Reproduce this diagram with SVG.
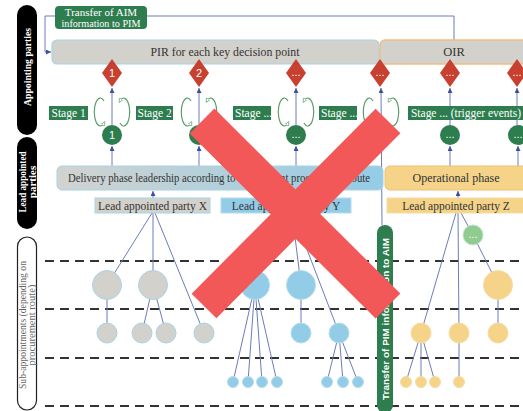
<svg xmlns="http://www.w3.org/2000/svg" width="523" height="411" viewBox="0 0 523 411">
<defs>
<style>
.serif{font-family:"Liberation Serif","DejaVu Serif",serif}
.sans{font-family:"Liberation Sans","DejaVu Sans",sans-serif}
.pill{fill:#000}
.pilltxt{fill:#fff;font-weight:bold;font-size:11px;text-anchor:middle}
.green{fill:#2e7d4f}
.wt{fill:#fff}
.conn{stroke:#6b7cb8;stroke-width:1;fill:none}
.dash{stroke:#333;stroke-width:2;stroke-dasharray:9 6;fill:none}
.loop{stroke:#5e9e6e;stroke-width:1.2;fill:none}
.dia{fill:#c8402f}
.gray{fill:#d3d1cc;stroke:#a8d3e6;stroke-width:1}
.blue{fill:#93cce6;stroke:#b5dcee;stroke-width:1}
.yel{fill:#f5d48a;stroke:#f6dca2;stroke-width:1}
.lbl{font-size:11.5px;fill:#333;text-anchor:middle}
.st{font-size:11.5px;fill:#fff}
.num{font-size:11px;fill:#fff;text-anchor:middle}
</style>
<marker id="arr" viewBox="0 0 6 6" refX="6" refY="3" markerWidth="5" markerHeight="5" orient="auto" markerUnits="userSpaceOnUse">
<path d="M0,0 L6,3 L0,6 z" fill="#3f4fa0"/>
</marker>
<marker id="larr" viewBox="0 0 6 6" refX="3" refY="3" markerWidth="5" markerHeight="5" orient="auto" markerUnits="userSpaceOnUse">
<path d="M0,0.5 L5,3 L0,5.5 z" fill="#fff" stroke="#5e9e6e" stroke-width="0.8"/>
</marker>
<linearGradient id="dg" x1="0" y1="0" x2="1" y2="0">
<stop offset="0" stop-color="#d2d3d0"/>
<stop offset="1" stop-color="#94cce6"/>
</linearGradient>
</defs>

<!-- side pills -->
<g id="lane-appointing">
<rect class="pill" x="17" y="5" width="20" height="130" rx="10"/>
<text class="serif pilltxt" textLength="78" lengthAdjust="spacingAndGlyphs" transform="translate(31,67) rotate(-90)">Appointing parties</text>
</g>
<g id="lane-lead">
<rect class="pill" x="17" y="137" width="20" height="92" rx="10"/>
<text class="serif pilltxt" textLength="61" lengthAdjust="spacingAndGlyphs" transform="translate(26,182) rotate(-90)">Lead appointed</text>
<text class="serif pilltxt" transform="translate(35.5,182) rotate(-90)">parties</text>
</g>
<g id="lane-sub">
<rect x="17.5" y="237" width="19" height="173" rx="9.5" fill="#fff" stroke="#222" stroke-width="1.2"/>
<text class="serif" font-size="10.5" fill="#666" text-anchor="middle" textLength="128" lengthAdjust="spacingAndGlyphs" transform="translate(26,325) rotate(-90)">Sub-appointments (depending on</text>
<text class="serif" font-size="10.5" fill="#666" text-anchor="middle" transform="translate(35,325) rotate(-90)">procurement route)</text>
</g>

<!-- dashed level lines -->
<g id="levels">
<line class="dash" x1="45" y1="261" x2="523" y2="261"/>
<line class="dash" x1="45" y1="309" x2="523" y2="309"/>
<line class="dash" x1="45" y1="358" x2="523" y2="358"/>
<line class="dash" x1="45" y1="406" x2="523" y2="406"/>
</g>

<!-- connectors -->
<g id="connectors">
<polyline class="conn" points="55,16 45,16 45,52 51,52" marker-end="url(#arr)"/>
<polyline class="conn" points="147,16 454,16 454,40"/>
<line class="conn" x1="112" y1="125" x2="112" y2="88" marker-end="url(#arr)"/>
<line class="conn" x1="199" y1="125" x2="199" y2="88" marker-end="url(#arr)"/>
<line class="conn" x1="296" y1="125" x2="296" y2="88" marker-end="url(#arr)"/>
<line class="conn" x1="382" y1="225" x2="381" y2="88" marker-end="url(#arr)"/>
<line class="conn" x1="450" y1="125" x2="450" y2="88" marker-end="url(#arr)"/>
<line class="conn" x1="517" y1="125" x2="517" y2="88" marker-end="url(#arr)"/>
<line class="conn" x1="112" y1="166" x2="112" y2="146" marker-end="url(#arr)"/>
<line class="conn" x1="199" y1="166" x2="199" y2="146" marker-end="url(#arr)"/>
<line class="conn" x1="296" y1="166" x2="296" y2="146" marker-end="url(#arr)"/>
<line class="conn" x1="450" y1="166" x2="450" y2="146" marker-end="url(#arr)"/>
<line class="conn" x1="518" y1="166" x2="518" y2="146" marker-end="url(#arr)"/>
<line class="conn" x1="153" y1="198" x2="153" y2="191" marker-end="url(#arr)"/>
<line class="conn" x1="458" y1="198" x2="458" y2="191" marker-end="url(#arr)"/>
<!-- tree X -->
<line class="conn" x1="152" y1="213" x2="107" y2="285"/>
<line class="conn" x1="153" y1="213" x2="153" y2="285"/>
<line class="conn" x1="155" y1="213" x2="204" y2="333"/>
<line class="conn" x1="107" y1="285" x2="107" y2="333"/>
<line class="conn" x1="153" y1="285" x2="142" y2="333"/>
<line class="conn" x1="153" y1="285" x2="166" y2="333"/>
<!-- tree Y -->
<line class="conn" x1="291" y1="213" x2="255" y2="285"/>
<line class="conn" x1="292" y1="213" x2="301" y2="285"/>
<line class="conn" x1="293" y1="213" x2="339" y2="333"/>
<line class="conn" x1="255" y1="285" x2="233" y2="382"/>
<line class="conn" x1="255" y1="285" x2="248" y2="382"/>
<line class="conn" x1="255" y1="285" x2="262" y2="382"/>
<line class="conn" x1="255" y1="285" x2="277" y2="382"/>
<line class="conn" x1="301" y1="285" x2="301" y2="333"/>
<line class="conn" x1="339" y1="333" x2="327" y2="382"/>
<line class="conn" x1="339" y1="333" x2="343" y2="382"/>
<line class="conn" x1="339" y1="333" x2="358" y2="382"/>
<!-- tree Z -->
<line class="conn" x1="461" y1="213" x2="473" y2="235"/>
<line class="conn" x1="473" y1="235" x2="498" y2="285"/>
<line class="conn" x1="456" y1="213" x2="421" y2="333"/>
<line class="conn" x1="458" y1="213" x2="459" y2="333"/>
<line class="conn" x1="498" y1="285" x2="498" y2="333"/>
<line class="conn" x1="421" y1="333" x2="406" y2="382"/>
<line class="conn" x1="421" y1="333" x2="421" y2="382"/>
<line class="conn" x1="421" y1="333" x2="435" y2="382"/>
<line class="conn" x1="459" y1="333" x2="459" y2="382"/>
</g>

<!-- cycle icons -->
<g id="cycles">
<path class="loop" d="M104,101 A6,14 0 1 0 104,123" marker-end="url(#larr)"/>
<path class="loop" d="M120,123 A6,14 0 1 0 120,101" marker-end="url(#larr)"/>
<path class="loop" d="M191,101 A6,14 0 1 0 191,123" marker-end="url(#larr)"/>
<path class="loop" d="M207,123 A6,14 0 1 0 207,101" marker-end="url(#larr)"/>
<path class="loop" d="M288,101 A6,14 0 1 0 288,123" marker-end="url(#larr)"/>
<path class="loop" d="M304,123 A6,14 0 1 0 304,101" marker-end="url(#larr)"/>
<path class="loop" d="M373,101 A6,14 0 1 0 373,123" marker-end="url(#larr)"/>
<path class="loop" d="M389,123 A6,14 0 1 0 389,101" marker-end="url(#larr)"/>
</g>

<g id="transfer-aim">
<rect class="green" x="55" y="6" width="92" height="23" rx="4"/>
<text class="serif" font-size="11" fill="#fff" text-anchor="middle" x="101" y="16">Transfer of AIM</text>
<text class="serif" font-size="11" fill="#fff" text-anchor="middle" textLength="79" lengthAdjust="spacingAndGlyphs" x="101" y="26.5">information to PIM</text>
</g>
<g id="pir">
<rect x="52" y="40" width="327" height="24" rx="5" fill="#d3d1cc" stroke="#a8d3e6" stroke-width="1.2"/>
<text class="serif" font-size="12.5" fill="#333" text-anchor="middle" textLength="149" lengthAdjust="spacingAndGlyphs" x="225" y="56">PIR for each key decision point</text>
</g>
<g id="oir">
<rect x="380" y="40" width="160" height="24" rx="5" fill="#d3d1cc" stroke="#f0c080" stroke-width="1.5"/>
<text class="serif" font-size="12.5" fill="#333" text-anchor="middle" x="454" y="56">OIR</text>
</g>

<g id="kdp1"><path class="dia" d="M112,59 L122,73 L112,87 L102,73 z"/><text class="sans num" x="112" y="77">1</text></g>
<g id="kdp2"><path class="dia" d="M199,59 L209,73 L199,87 L189,73 z"/><text class="sans num" x="199" y="77">2</text></g>
<g id="kdp3"><path class="dia" d="M296,59 L306,73 L296,87 L286,73 z"/><text class="sans num" x="296" y="76">...</text></g>
<g id="kdp4"><path class="dia" d="M380,59 L390,73 L380,87 L370,73 z"/><text class="sans num" x="380" y="76">...</text></g>
<g id="kdp5"><path class="dia" d="M450,59 L460,73 L450,87 L440,73 z"/><text class="sans num" x="450" y="76">...</text></g>
<g id="kdp6"><path class="dia" d="M517,59 L527,73 L517,87 L507,73 z"/><text class="sans num" x="517" y="76">...</text></g>

<g id="stage1"><rect class="green" x="49" y="106" width="39" height="14"/><text class="serif st" x="51.5" y="117">Stage 1</text></g>
<g id="stage2"><rect class="green" x="136" y="106" width="37" height="14"/><text class="serif st" x="137.5" y="117">Stage 2</text></g>
<g id="stage3"><rect class="green" x="233" y="106" width="38" height="14"/><text class="serif st" x="235" y="117">Stage ...</text></g>
<g id="stage4"><rect class="green" x="319" y="106" width="38" height="14"/><text class="serif st" x="321" y="117">Stage ...</text></g>
<g id="stage5"><rect class="green" x="408" y="106" width="120" height="14"/><text class="serif st" x="411" y="117" textLength="110" lengthAdjust="spacingAndGlyphs">Stage ... (trigger events)</text></g>

<g id="c1"><circle class="green" cx="112" cy="135" r="10"/><text class="sans num" x="112" y="139">1</text></g>
<g id="c2"><circle class="green" cx="199" cy="135" r="10"/><text class="sans num" x="199" y="139">2</text></g>
<g id="c3"><circle class="green" cx="296" cy="135" r="10"/><text class="sans num" x="296" y="138">...</text></g>
<g id="c5"><circle class="green" cx="450" cy="135" r="10"/><text class="sans num" x="450" y="138">...</text></g>
<g id="c6"><circle class="green" cx="518" cy="135" r="10"/><text class="sans num" x="518" y="138">...</text></g>

<g id="delivery">
<rect x="57" y="166" width="326" height="24" rx="5" fill="url(#dg)" stroke="#a8d3e6" stroke-width="1"/>
<text class="serif" font-size="11.5" fill="#333" x="68" y="182" textLength="302" lengthAdjust="spacingAndGlyphs">Delivery phase leadership according to the relevant procurement route</text>
</g>
<g id="operational">
<rect x="385" y="166" width="150" height="24" rx="5" fill="#f5d48a" stroke="#f0c070" stroke-width="1"/>
<text class="serif" font-size="12" fill="#333" text-anchor="middle" x="456" y="182">Operational phase</text>
</g>
<g id="partyX"><rect class="gray" x="95" y="198" width="115" height="15"/><text class="serif lbl" x="152.5" y="209.5">Lead appointed party X</text></g>
<g id="partyY"><rect class="blue" x="221" y="198" width="130" height="15"/><text class="serif lbl" x="286" y="209.5">Lead appointed party Y</text></g>
<g id="partyZ"><rect class="yel" x="387" y="198" width="145" height="15"/><text class="serif lbl" x="456" y="209.5">Lead appointed party Z</text></g>

<g id="subX">
<circle class="gray" cx="107" cy="285" r="14.5"/>
<circle class="gray" cx="153" cy="285" r="14.5"/>
<circle class="gray" cx="107" cy="333" r="10"/>
<circle class="gray" cx="142" cy="333" r="10"/>
<circle class="gray" cx="166" cy="333" r="10"/>
<circle class="gray" cx="204" cy="333" r="10"/>
</g>
<g id="subY">
<circle class="blue" cx="255" cy="285" r="14.5"/>
<circle class="blue" cx="301" cy="285" r="14.5"/>
<circle class="blue" cx="301" cy="333" r="10"/>
<circle class="blue" cx="339" cy="333" r="10"/>
<circle class="blue" cx="233" cy="382" r="5.5"/>
<circle class="blue" cx="248" cy="382" r="5.5"/>
<circle class="blue" cx="262" cy="382" r="5.5"/>
<circle class="blue" cx="277" cy="382" r="5.5"/>
<circle class="blue" cx="327" cy="382" r="5.5"/>
<circle class="blue" cx="343" cy="382" r="5.5"/>
<circle class="blue" cx="358" cy="382" r="5.5"/>
</g>
<g id="subZ">
<circle cx="473" cy="235" r="10" fill="#90cb91" stroke="#c2e4c2" stroke-width="1"/>
<text class="sans num" x="473" y="238">...</text>
<circle class="yel" cx="498" cy="285" r="14.5"/>
<circle class="yel" cx="421" cy="333" r="10"/>
<circle class="yel" cx="459" cy="333" r="10"/>
<circle class="yel" cx="498" cy="333" r="10"/>
<circle class="yel" cx="406" cy="382" r="5.5"/>
<circle class="yel" cx="421" cy="382" r="5.5"/>
<circle class="yel" cx="435" cy="382" r="5.5"/>
<circle class="yel" cx="459" cy="382" r="5.5"/>
</g>

<g id="transfer-pim">
<rect class="green" x="377" y="225" width="16" height="188" rx="8"/>
<text class="sans" font-size="9.5" font-weight="bold" fill="#fff" text-anchor="middle" textLength="162" lengthAdjust="spacingAndGlyphs" transform="translate(388.5,319) rotate(-90)">Transfer of PIM information to AIM</text>
</g>

<g id="cross">
<line x1="202" y1="121" x2="388" y2="306" stroke="#f35858" stroke-width="35"/>
<line x1="388" y1="121" x2="204" y2="306" stroke="#f35858" stroke-width="35"/>
</g>
</svg>
